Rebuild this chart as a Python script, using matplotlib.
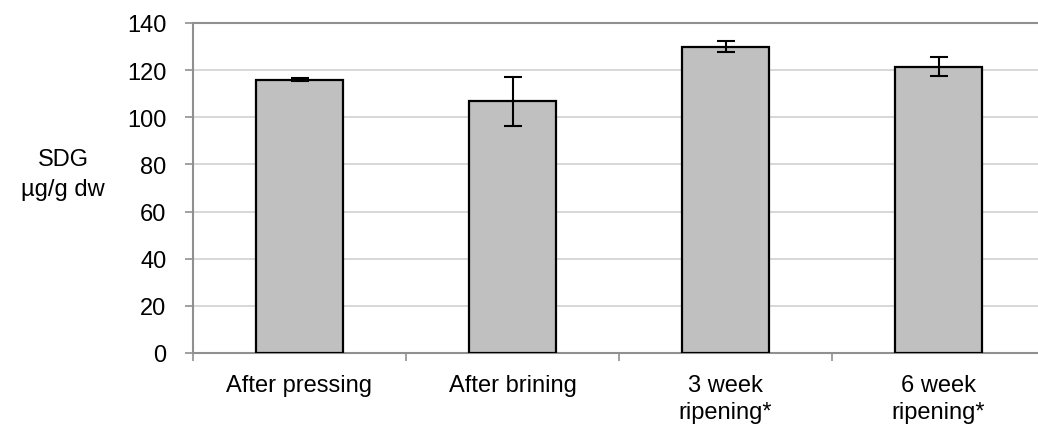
import matplotlib
matplotlib.use('Agg')
import matplotlib.pyplot as plt
import numpy as np

plt.rcParams['font.family'] = ['Liberation Sans', 'DejaVu Sans']

# %% data ---------------------------------------------------------------------
categories = ['After pressing', 'After brining', '3 week\nripening*', '6 week\nripening*']
sdg_mean = [116.0, 106.7, 130.0, 121.5]
sdg_err = [0.5, 10.2, 2.3, 4.0]
y_ticks = [0, 20, 40, 60, 80, 100, 120, 140]

# %% figure -------------------------------------------------------------------
W, H = 1038, 427
fig = plt.figure(figsize=(W / 100, H / 100), dpi=100)
ax = fig.add_axes([193 / W, 73 / H, (1045 - 193) / W, 330 / H])

x = np.arange(len(categories))

ax.bar(x, sdg_mean, width=0.41, color='#c0c0c0', edgecolor='black',
       linewidth=1.6, zorder=3)
ax.errorbar(x, sdg_mean, yerr=sdg_err, fmt='none', ecolor='black',
            elinewidth=1.5, capsize=6.5, capthick=1.5, zorder=4)

ax.set_xlim(-0.5, 3.5)
ax.set_ylim(0, 140)
ax.set_yticks(y_ticks)
ax.yaxis.grid(True, color='#d4d4d4', lw=1.3, zorder=0)

ax.set_xticks(x)
ax.set_xticklabels(categories, fontsize=17, linespacing=1.3)
ax.set_xticks(np.arange(-0.5, 4.0, 1.0), minor=True)
ax.tick_params(axis='x', which='major', length=0, pad=15)
ax.tick_params(axis='x', which='minor', length=6, width=1.2, color='#909090')
ax.tick_params(axis='y', length=6, width=1.2, color='#909090', pad=13,
               labelsize=17)

for side in ['left', 'bottom', 'top']:
    ax.spines[side].set_color('#909090')
    ax.spines[side].set_linewidth(1.5)
ax.spines['right'].set_visible(False)

fig.text(63 / W, 1 - 175 / H, 'SDG\n\u00b5g/g dw', ha='center', va='center',
         fontsize=17, linespacing=1.45)

plt.savefig('out.png', dpi=100)
